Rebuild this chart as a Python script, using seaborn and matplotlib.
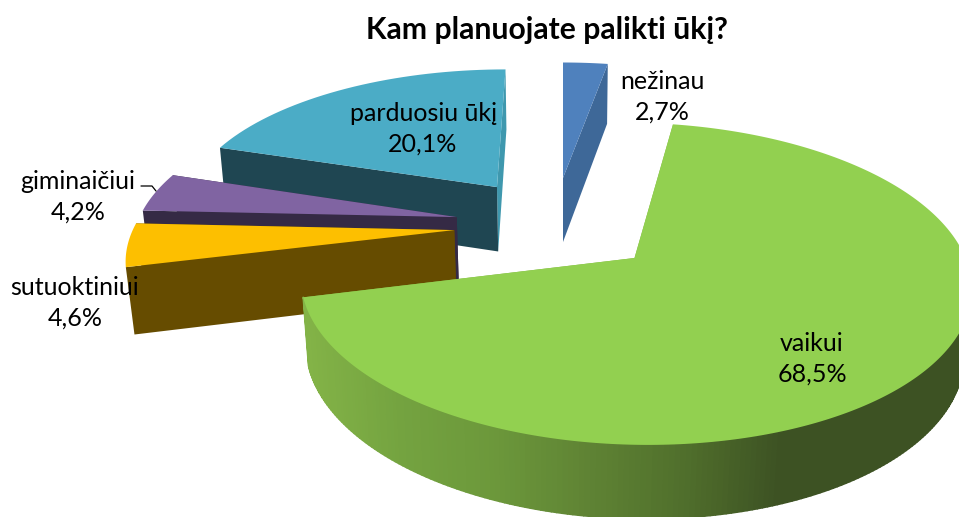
"""Kam planuojate palikti ukj - exploded 3D pie, drawn with a small perspective projection."""

import numpy as np
import matplotlib
matplotlib.use('Agg')
import matplotlib.pyplot as plt
from matplotlib.collections import PolyCollection
import seaborn as sns

# =====================================================
# DATA
# =====================================================

TITLE = 'Kam planuojate palikti ūkį?'
labels = ['nežinau', 'vaikui', 'sutuoktiniui', 'giminaičiui', 'parduosiu ūkį']
values = [2.7, 68.5, 4.6, 4.2, 20.1]

top_colors = ['#4F81BD', '#92D050', '#FDBF00', '#8064A2', '#4BACC6']
side_colors = ['#3E6898', '#83B347', '#664C00', '#352A45', '#1F4652']
end_wall_colors = ['#3E6898', '#83B347', '#664C00', '#352A45', '#3F98AE']

# where each slice's tip sits on the pie plane (explosion)
tips = [(0.0, 0.555), (0.216, 0.0), (-0.338, 0.183), (-0.335, 0.272), (-0.215, 0.487)]
# label centres, pixels
label_pos = [(662, 97), (812, 359), (75, 303), (78, 197), (423, 129)]
# far slices first, the big slice goes on top
draw_order = [4, 0, 3, 2, 1]

# outer wall of the big slice, left to right
rim_shades = ['#83B347', '#74A340', '#6C983B', '#5F8334', '#506F2C', '#3D5223', '#3D5223', '#3D5223']

# =====================================================
# PROJECTION
# =====================================================

VANISH_X, CENTER_Y = 563, 258
SCALE_X, SCALE_Y = 331, 157
PERSP, PERSP_Z = 0.16, 0.02

sns.set_theme(style='white')
plt.rcParams['font.family'] = ['Lato', 'DejaVu Sans']


def project(u, v, z=0.0):
    """Pie plane coordinates to pixels, z=1 is the bottom of the pie."""
    u, v = np.asarray(u, float), np.asarray(v, float)
    w = 1 + PERSP * v
    x = VANISH_X + SCALE_X * u / (w + PERSP_Z * z)
    y = CENTER_Y - SCALE_Y * v / w + z * (31 + 36 / w)
    return np.column_stack([x, y])


def arc(tip, t1, t2, n=80):
    t = np.radians(np.linspace(t1, t2, n))
    return tip[0] + np.sin(t), tip[1] + np.cos(t)


def draw_slice(ax, tip, t1, t2, top, side, end_wall, shaded=False):
    u, v = arc(tip, t1, t2, 300 if shaded else 40)
    upper = project(u, v)
    lower = project(u, v, 1)

    # radial walls, the end wall goes under the start wall
    for i, col in ((-1, end_wall), (0, side)):
        wall = np.vstack([project(tip[0], tip[1]), upper[i], lower[i], project(tip[0], tip[1], 1)])
        ax.fill(wall[:, 0], wall[:, 1], color=col, lw=0)

    # outer wall, only the big slice shows one and only on its near side
    if shaded:
        front = [i for i in range(len(u) - 1) if v[i] < 0.05]
        quads = [[upper[i], upper[i + 1], lower[i + 1], lower[i]] for i in front]
        xs = np.array([q[0][0] for q in quads])
        palette = sns.blend_palette(rim_shades, n_colors=256)
        idx = np.clip((xs - xs.min()) / (xs.max() - xs.min()) * 255, 0, 255).astype(int)
        cols = [palette[i] for i in idx]
        ax.add_collection(PolyCollection(quads, facecolors=cols, edgecolors=cols, linewidths=1.2))

    # top face
    face = np.vstack([project(tip[0], tip[1]), upper])
    ax.fill(face[:, 0], face[:, 1], color=top, lw=0)


def main():
    fig = plt.figure(figsize=(9.59, 5.17), dpi=100)
    ax = fig.add_axes([0, 0, 1, 1])
    ax.set_xlim(0, 959)
    ax.set_ylim(517, 0)
    ax.axis('off')

    shares = np.array(values) / sum(values) * 360
    ends = np.cumsum(shares)
    starts = ends - shares
    for i in draw_order:
        draw_slice(ax, tips[i], starts[i], ends[i], top_colors[i], side_colors[i],
                   end_wall_colors[i], shaded=(i == 1))

    # leader line for giminaiciui
    ax.plot([141, 152, 156], [186, 186, 191], color='black', lw=0.9)

    for name, val, (x, y) in zip(labels, values, label_pos):
        ax.text(x, y, f"{name}\n{val:.1f}%".replace('.', ','), ha='center', va='center',
                fontsize=18, color='black', linespacing=1.42)

    ax.text(547, 30, TITLE, ha='center', va='center', fontsize=21.7, fontweight='bold', color='black')

    fig.savefig('out.png', dpi=100)


if __name__ == '__main__':
    main()
